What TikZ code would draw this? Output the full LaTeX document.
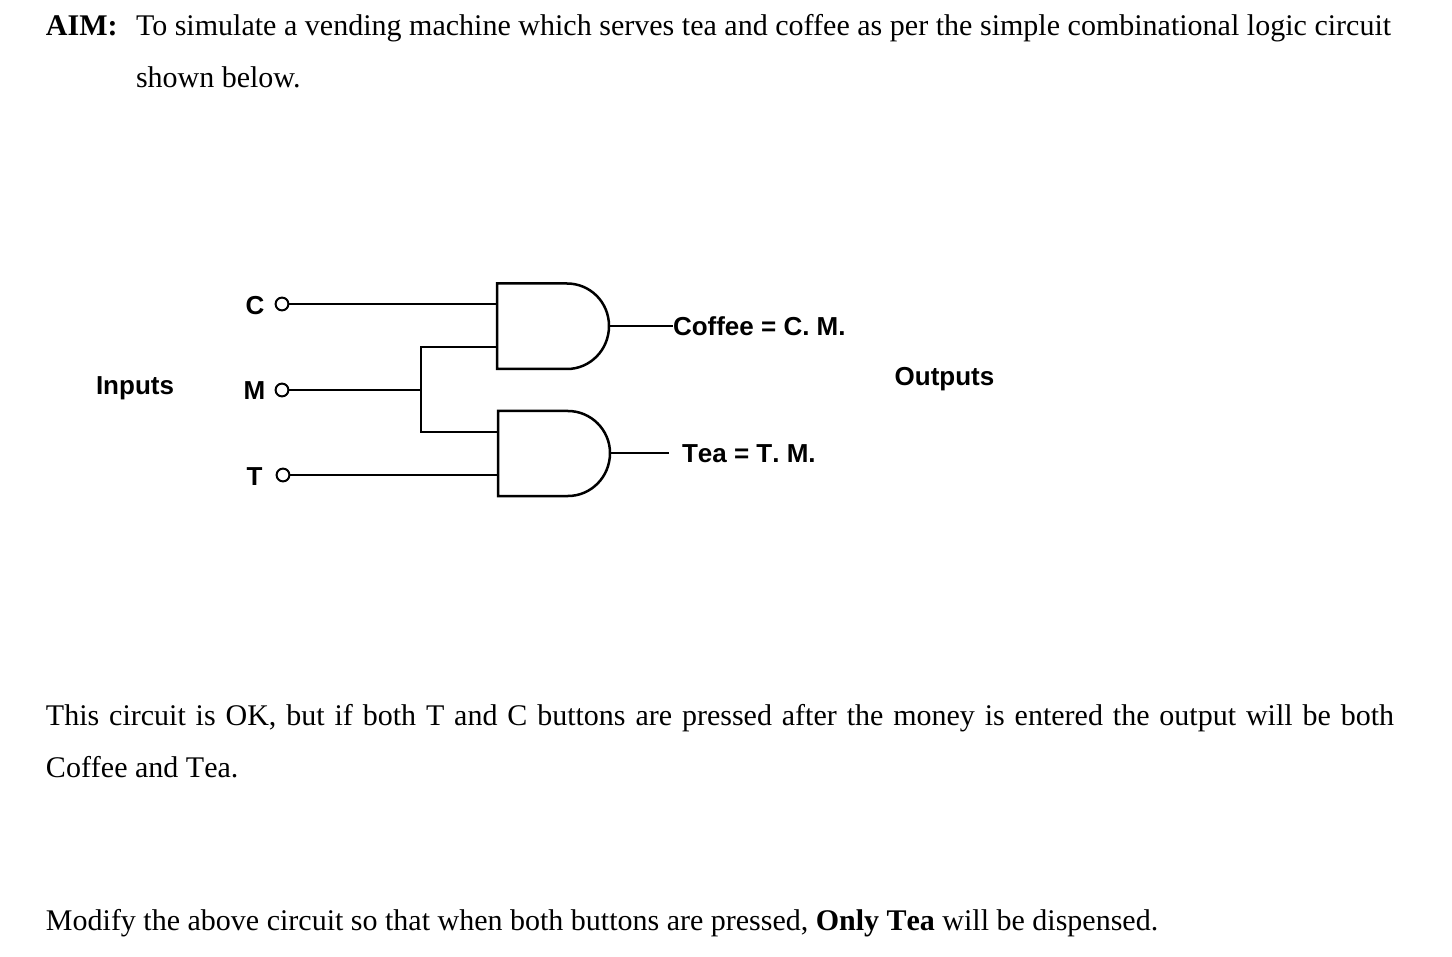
\documentclass[tikz,border=0pt]{standalone}
\usepackage{fontspec}
\setmainfont{Liberation Serif}
\newfontfamily\labelfont{Liberation Sans}
\newcommand{\bodysize}{\fontsize{15}{18}\selectfont}
\newcommand{\labelsize}{\fontsize{13}{16}\selectfont}
\newcommand{\nokern}{\addfontfeature{Kerning=Off}}
\tikzset{
  body/.style={anchor=base west,inner sep=0pt,outer sep=0pt,font=\bodysize},
  sig/.style={anchor=base,inner sep=0pt,outer sep=0pt,font=\labelfont\labelsize\bfseries},
  wire/.style={draw=black,line width=1.25pt},
  gateshape/.style={draw=black,line width=1.25pt,line join=miter},
  term/.style={circle,draw=black,line width=1pt,minimum size=6.4pt,inner sep=0pt,fill=white}
}
\begin{document}
\begin{tikzpicture}[x=0.5pt,y=-0.5pt]
\useasboundingbox (0,0) rectangle (1452,957);
% text
\node[body] (aim) at (46,36) {\textbf{AIM:}};
\node[body] (l1) at (136,36) {\makebox[627.5pt][s]{To simulate a vending machine which serves tea and coffee as per the simple combinational logic circuit}};
\node[body] (l2) at (136,88) {shown below.};
\node[body] (l3) at (46,725) {\makebox[674pt][s]{This circuit is OK, but if both T and C buttons are pressed after the money is entered the output will be both}};
\node[body] (l4) at (46,777) {{\nokern Coffee and Tea.}};
\node[body] (l5) at (46,930) {{\nokern Modify the above circuit so that when both buttons are pressed, \textbf{Only Tea} will be dispensed.}};
% labels
\node[sig] (inputs) at (135,394.5) {Inputs};
\node[sig] (outputs) at (944.5,385.5) {Outputs};
\node[sig] (lc) at (255,315) {C};
\node[sig] (lm) at (254.5,399.5) {M};
\node[sig] (lt) at (254.5,485) {T};
\node[sig,anchor=base west] (coffee) at (673,335.5) {Coffee = C. M.};
\node[sig,anchor=base west] (tea) at (682,462.5) {{\nokern Tea = T. M.}};
% terminals
\node[term] (tc) at (282,304) {};
\node[term] (tm) at (282,390) {};
\node[term] (tt) at (283,475) {};
% gate pins
\coordinate (g1a) at (497,304);
\coordinate (g1b) at (497,347);
\coordinate (g1o) at (609,326);
\coordinate (g2a) at (498,432);
\coordinate (g2b) at (498,475);
\coordinate (g2o) at (610,453);
\coordinate (junc) at (421,390);
\coordinate (t1) at (421,347);
\coordinate (t2) at (421,432);
\coordinate (teaend) at (669,453);
\coordinate (coffeeend) at (673,326);
% gates
\draw[gateshape] (497,283.5) -- (567,283.5) .. controls (590,283.5) and (609,302) .. (g1o) .. controls (609,350) and (590,369) .. (567,369) -- (497,369) -- cycle;
\draw[gateshape] (498,411) -- (568,411) .. controls (591,411) and (610,430) .. (g2o) .. controls (610,477) and (591,496) .. (568,496) -- (498,496) -- cycle;
% wires
\draw[wire] (tc.east) -- (g1a);
\draw[wire] (tm.east) -- (junc);
\draw[wire] (tt.east) -- (g2b);
\draw[wire,line join=miter] (g1b) -- (t1) -- (t2) -- (g2a);
\draw[wire] (g1o) -- (coffeeend);
\draw[wire] (g2o) -- (teaend);
\end{tikzpicture}
\end{document}
